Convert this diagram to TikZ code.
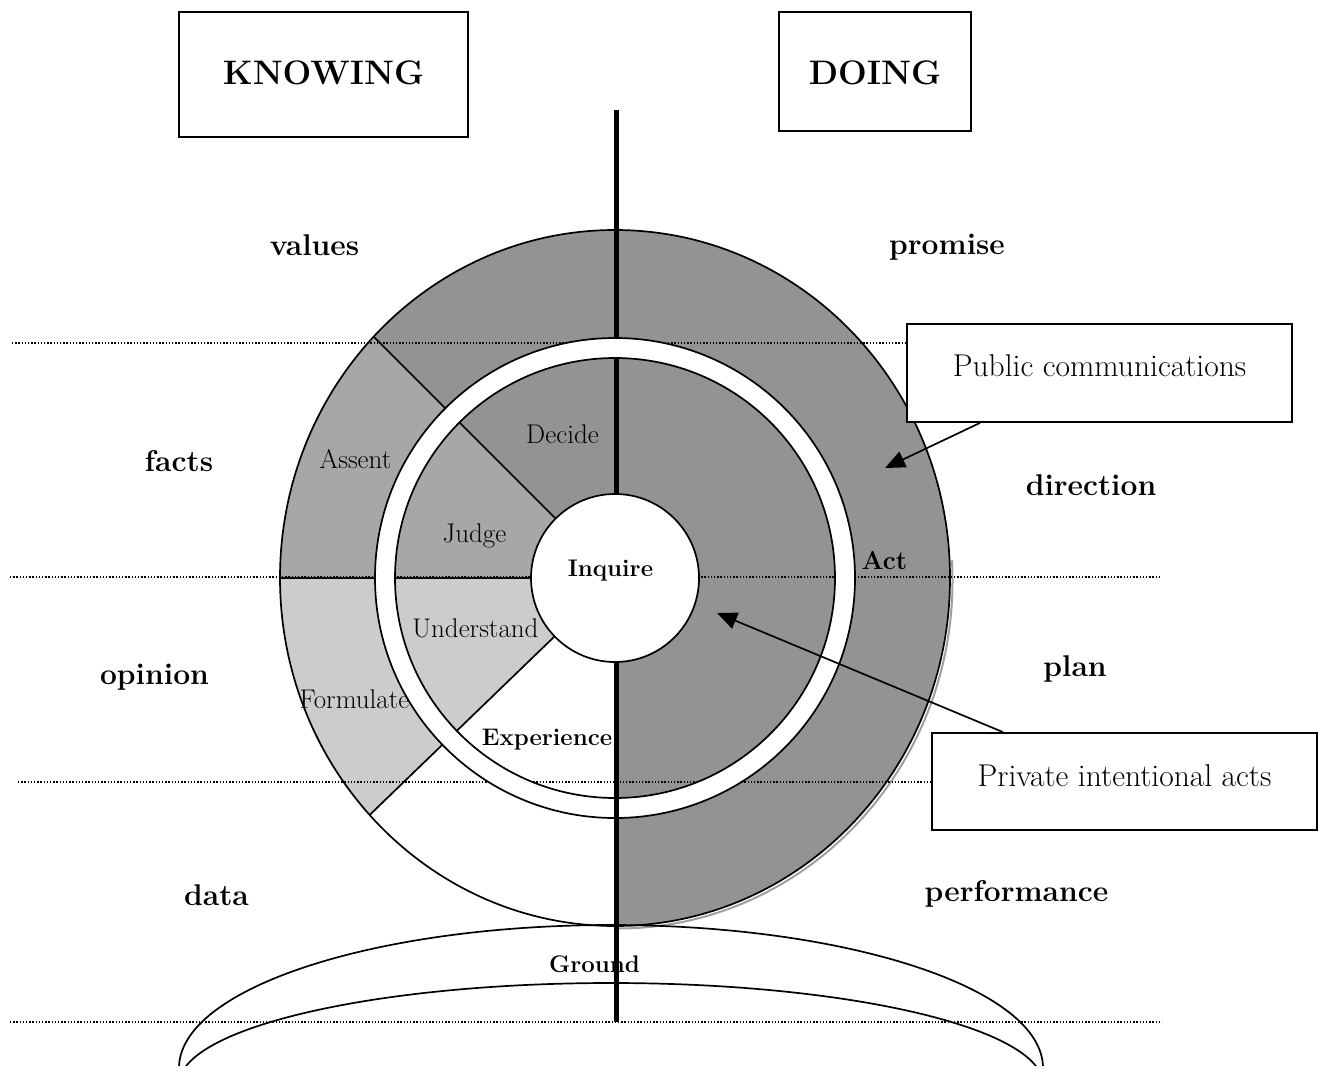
\documentclass[tikz,border=0pt]{standalone}
\usetikzlibrary{arrows.meta}
\definecolor{dkg}{gray}{0.575}
\definecolor{mdg}{gray}{0.655}
\definecolor{ltg}{gray}{0.80}
\begin{document}
\begin{tikzpicture}[x=1pt,y=-1pt,
  lbl/.style={font=\fontsize{30}{32}\selectfont\bfseries, anchor=base, inner sep=0pt},
  seg/.style={font=\fontsize{27}{30}\selectfont, anchor=base, inner sep=0pt},
  core/.style={font=\fontsize{24}{27}\selectfont\bfseries, anchor=base, inner sep=0pt},
  titlebox/.style={draw, line width=1.8pt, inner sep=0pt, fill=white, font=\fontsize{34}{37}\selectfont\bfseries},
  notebox/.style={draw, line width=1.8pt, inner sep=0pt, fill=white, font=\fontsize{31.5}{34}\selectfont},
  dotline/.style={line width=1.3pt, dash pattern=on 1.3pt off 1.9pt},
  edgeline/.style={line width=1.7pt},
  axisline/.style={line width=5pt},
  pointer/.style={line width=1.7pt, -{Triangle[length=20pt,width=17pt]}}
]
\useasboundingbox (0,0) rectangle (1324,1065);
\fill[white] (0,0) rectangle (1324,1065);
\coordinate (C) at (615,578);

% shadow of the outer disc
\begin{scope}
  \clip (615,560) rectangle (1000,1000);
  \draw[gray!75, line width=2pt] ([shift={(2.5,2.5)}]C) ellipse [x radius=335pt, y radius=348pt];
\end{scope}

% sectors
\begin{scope}
  \clip (C) ellipse [x radius=335pt, y radius=348pt];
  \fill[dkg] (615,0) rectangle (1000,1000);
  \fill[dkg] (C) -- (615,0) -- (37,0) -- cycle;
  \fill[mdg] (C) -- (37,0) -- (0,0) -- (0,578) -- cycle;
  \fill[ltg] (C) -- (0,578) -- (0,1172) -- cycle;
  \draw[edgeline] (C) -- (37,0);
  \draw[edgeline] (C) -- (0,578);
  \draw[edgeline] (C) -- (0,1172);
\end{scope}
\draw[edgeline] (C) ellipse [x radius=335pt, y radius=348pt];

% ground
\begin{scope}
  \clip (0,0) rectangle (1324,1065);
  \draw[edgeline] (611,1068) ellipse [x radius=432pt, y radius=143pt];
  \draw[edgeline] (611,1084.5) ellipse [x radius=432pt, y radius=101.5pt];
\end{scope}

% boxes
\node[titlebox, minimum width=289pt, minimum height=125pt, text height=23pt, text depth=3pt] (know) at (323.5,74.5) {KNOWING};
\node[titlebox, minimum width=192pt, minimum height=119pt, text height=26pt, text depth=0pt] (do) at (875,71.5) {DOING};
\node[notebox, minimum width=385pt, minimum height=98pt, text height=22pt, text depth=16pt] (pub) at (1099.5,373) {Public communications};
\node[notebox, minimum width=385pt, minimum height=97pt, text height=22pt, text depth=12pt] (priv) at (1124.5,781.5) {Private intentional acts};

% dotted levels
\coordinate (d1a) at (12,343);   \coordinate (d1b) at (907,343);
\coordinate (d2a) at (10,577);   \coordinate (d2b) at (1160,577);
\coordinate (d3a) at (18,782);   \coordinate (d3b) at (932,782);
\coordinate (d4a) at (10,1022);  \coordinate (d4b) at (1162,1022);
\draw[dotline] (d1a) -- (d1b);
\draw[dotline] (d2a) -- (d2b);
\draw[dotline] (d3a) -- (d3b);
\draw[dotline] (d4a) -- (d4b);

% vertical axis
\coordinate (vt) at (616,110);
\coordinate (vb) at (616,1022);
\draw[axisline] (vt) -- (vb);

% white ring
\fill[white, even odd rule] (C) circle [radius=240pt] (C) circle [radius=220pt];
\draw[edgeline] (C) circle [radius=240pt];
\draw[edgeline] (C) circle [radius=220pt];

% centre
\node[circle, draw, line width=1.7pt, fill=white, minimum size=168pt, inner sep=0pt] (inq) at (C) {};
\draw[axisline] (616,662) -- (vb);

% arrows
\coordinate (pubtip) at (885,468);
\coordinate (privtip) at (717,613);
\draw[pointer] ([xshift=-119.5pt]pub.south) -- (pubtip);
\draw[pointer] ([xshift=-121.5pt]priv.north) -- (privtip);

% outer labels
\node[lbl] (values) at (314.5,255.5) {values};
\node[lbl] (promise) at (947,254) {promise};
\node[lbl] (facts) at (179,471.5) {facts};
\node[lbl] (direction) at (1091,495.5) {direction};
\node[lbl] (opinion) at (154.5,684) {opinion};
\node[lbl] (plan) at (1075,676) {plan};
\node[lbl] (data) at (216.5,905.5) {data};
\node[lbl] (perf) at (1016.5,901) {performance};

% sector labels
\node[seg] (decide) at (562.5,443) {Decide};
\node[seg] (assent) at (355.5,468) {Assent};
\node[seg] (judge) at (474.5,542) {Judge};
\node[seg] (understand) at (475.5,637) {Understand};
\node[seg] (formulate) at (354.5,708) {Formulate};
\node[core] (inqtext) at (610.5,576) {Inquire};
\node[core] (exper) at (547,745) {Experience};
\node[core] (ground) at (594.5,972.5) {Ground};
\node[lbl, font=\fontsize{26}{29}\selectfont\bfseries] (act) at (884.5,569) {Act};
\end{tikzpicture}
\end{document}
